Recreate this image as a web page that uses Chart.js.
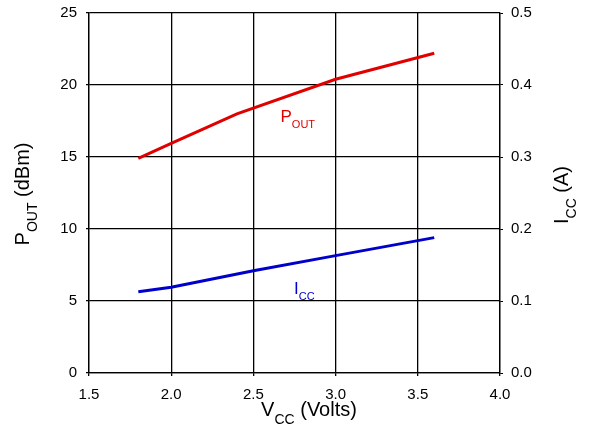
<!DOCTYPE html>
<html>
<head>
<meta charset="utf-8">
<script src="https://cdn.jsdelivr.net/npm/chart.js@4"></script>
<style>
  html, body { margin: 0; padding: 0; background: #fff; }
  #wrap { width: 590px; height: 446px; }
</style>
</head>
<body>
<div id="wrap"><canvas id="myChart" width="590" height="446"></canvas></div>
<script>
// data
const vccPout = [1.8, 2.0, 2.4, 3.0, 3.6];
const pout = [14.9, 15.95, 18.0, 20.4, 22.2];      // dBm, left axis
const vccIcc = [1.8, 2.0, 2.5, 3.0, 3.6];
const icc = [0.113, 0.119, 0.142, 0.163, 0.188];   // A, right axis

const xTicks = [1.5, 2.0, 2.5, 3.0, 3.5, 4.0];
const poutTicks = [0, 5, 10, 15, 20, 25];
const iccTicks = [0.0, 0.1, 0.2, 0.3, 0.4, 0.5];

const FONT = "'Liberation Sans', Arial, sans-serif";

// draws "main" + subscript + rest, centred on (x, y) baseline, optional rotation
function drawSubText(ctx, x, y, main, sub, rest, size, subSize, color, angle) {
    ctx.save();
    ctx.translate(x, y);
    ctx.rotate(angle || 0);
    ctx.fillStyle = color;
    ctx.textBaseline = 'alphabetic';
    ctx.textAlign = 'left';
    ctx.font = size + 'px ' + FONT;
    const w1 = ctx.measureText(main).width;
    const w3 = rest ? ctx.measureText(rest).width : 0;
    ctx.font = subSize + 'px ' + FONT;
    const w2 = ctx.measureText(sub).width;
    let cx = -(w1 + w2 + w3) / 2;
    ctx.font = size + 'px ' + FONT;
    ctx.fillText(main, cx, 0);
    cx += w1;
    ctx.font = subSize + 'px ' + FONT;
    ctx.fillText(sub, cx, subSize * 0.55);
    cx += w2;
    if (rest) {
        ctx.font = size + 'px ' + FONT;
        ctx.fillText(rest, cx, 0);
    }
    ctx.restore();
}

const labelPlugin = {
    id: 'labels',
    afterDraw(chart) {
        const ctx = chart.ctx;
        const xs = chart.scales.x, ys = chart.scales.y;
        const area = chart.chartArea;
        // in-plot series labels
        drawSubText(ctx, xs.getPixelForValue(2.77), ys.getPixelForValue(17.4), 'P', 'OUT', '', 17, 11, '#e00000');
        drawSubText(ctx, xs.getPixelForValue(2.81), ys.getPixelForValue(5.5), 'I', 'CC', '', 17, 11, '#0000cc');
        // axis titles
        drawSubText(ctx, area.left + 220, 416, 'V', 'CC', ' (Volts)', 20, 14, '#000');
        drawSubText(ctx, 29, 194, 'P', 'OUT', ' (dBm)', 20, 14, '#000', -Math.PI / 2);
        drawSubText(ctx, 568, 195, 'I', 'CC', ' (A)', 20, 14, '#000', -Math.PI / 2);
    }
};

function toXY(xs, ys) {
    return xs.map((v, i) => ({ x: v, y: ys[i] }));
}

function fixY(width) {
    return (s) => {
        s.width = width;
        s.paddingTop = 0;
        s.paddingBottom = 0;
    };
}

const ctx = document.getElementById('myChart').getContext('2d');
const chart = new Chart(ctx, {
    type: 'line',
    data: {
        datasets: [{
            label: 'POUT',
            data: toXY(vccPout, pout),
            borderColor: '#e00000',
            borderWidth: 3,
            pointRadius: 0,
            tension: 0,
            yAxisID: 'y'
        }, {
            label: 'ICC',
            data: toXY(vccIcc, icc),
            borderColor: '#0000cc',
            borderWidth: 3,
            pointRadius: 0,
            tension: 0,
            yAxisID: 'y2'
        }]
    },
    options: {
        responsive: false,
        animation: false,
        layout: { padding: { top: 13 } },
        plugins: {
            legend: { display: false },
            tooltip: { enabled: false }
        },
        scales: {
            x: {
                type: 'linear',
                min: xTicks[0],
                max: xTicks[xTicks.length - 1],
                afterBuildTicks: (s) => { s.ticks = xTicks.map(v => ({ value: v })); },
                afterFit: (s) => { s.height = 73; },
                ticks: {
                    callback: (v) => Number(v).toFixed(1),
                    font: { family: FONT, size: 15 },
                    color: '#000',
                    padding: 10,
                    maxRotation: 0
                },
                grid: { color: '#000', lineWidth: 1.3, tickLength: 3 },
                border: { color: '#000', width: 1.3 }
            },
            y: {
                position: 'left',
                min: poutTicks[0],
                max: poutTicks[poutTicks.length - 1],
                afterBuildTicks: (s) => { s.ticks = poutTicks.map(v => ({ value: v })); },
                afterFit: fixY(89),
                ticks: {
                    font: { family: FONT, size: 15 },
                    color: '#000',
                    padding: 9
                },
                grid: { color: '#000', lineWidth: 1.3, tickLength: 3 },
                border: { color: '#000', width: 1.3 }
            },
            y2: {
                position: 'right',
                min: iccTicks[0],
                max: iccTicks[iccTicks.length - 1],
                afterBuildTicks: (s) => { s.ticks = iccTicks.map(v => ({ value: v })); },
                afterFit: fixY(90),
                ticks: {
                    callback: (v) => Number(v).toFixed(1),
                    font: { family: FONT, size: 15 },
                    color: '#000',
                    padding: 8
                },
                grid: { drawOnChartArea: false, color: '#000', tickLength: 3 },
                border: { color: '#000', width: 1.3 }
            }
        }
    },
    plugins: [labelPlugin]
});
</script>
</body>
</html>
